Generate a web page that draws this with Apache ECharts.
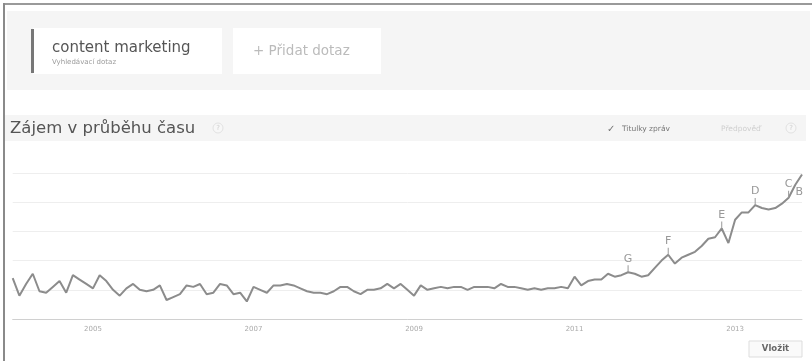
<!DOCTYPE html>
<html>
<head>
<meta charset="utf-8">
<script src="https://cdn.jsdelivr.net/npm/echarts@6/dist/echarts.min.js"></script>
<style>
html,body{margin:0;padding:0;background:#fff;}
#chart{width:812px;height:361px;}
</style>
</head>
<body>
<div id="chart"></div>
<script>
// Monthly interest values, Jan 2004 .. Nov 2013 (Google Trends, 0-100)
var values = [
  28,16,24,31,19,18,22,26,18,30,27,24,
  21,30,26,20,16,21,24,20,19,20,23,13,
  15,17,23,22,24,17,18,24,23,17,18,12,
  22,20,18,23,23,24,23,21,19,18,18,17,
  19,22,22,19,17,20,20,21,24,21,24,20,
  16,23,20,21,22,21,22,22,20,22,22,22,
  21,24,22,22,21,20,21,20,21,21,22,21,
  29,23,26,27,27,31,29,30,32,31,29,30,
  35,40,44,38,42,44,46,50,55,56,62,52,
  68,73,73,78,76,75,76,79,83,92,99
];
var startYear = 2004;
var yearLabels = ['2005','2007','2009','2011','2013'];
var eventLetters = ['G','F','E','D','C','B'];
var eventIndex = [92, 98, 106, 111, 116, 117];

var months = [];
for (var i = 0; i < values.length; i++) {
  var y = startYear + Math.floor(i / 12);
  var m = (i % 12) + 1;
  months.push(y + '-' + (m < 10 ? '0' + m : m));
}

var FONT = 'DejaVu Sans';
var chart = echarts.init(document.getElementById('chart'), null, {renderer: 'canvas'});

var markData = eventLetters.map(function (L, k) {
  var idx = eventIndex[k];
  var item = {coord: [months[idx], values[idx]], value: L, name: L};
  if (L === 'B') {
    item.symbolSize = 0;
    item.label = {offset: [4, 14]};
  }
  return item;
});

var option = {
  animation: false,
  backgroundColor: '#ffffff',
  grid: {left: 12.7, right: 10, top: 173, bottom: 42, containLabel: false},
  xAxis: {
    type: 'category',
    data: months,
    boundaryGap: false,
    axisLine: {show: true, lineStyle: {color: '#d0d0d0', width: 1}},
    axisTick: {show: false},
    splitLine: {show: false},
    axisLabel: {
      color: '#aaaaaa',
      fontFamily: FONT,
      fontSize: 7,
      margin: 7,
      interval: 0,
      formatter: function (v) {
        var yy = v.slice(0, 4), mm = v.slice(5);
        return (mm === '01' && yearLabels.indexOf(yy) >= 0) ? yy : '';
      }
    }
  },
  yAxis: {
    type: 'value',
    min: 0, max: 100, interval: 20,
    axisLine: {show: false},
    axisTick: {show: false},
    axisLabel: {show: false},
    splitLine: {show: true, lineStyle: {color: '#eeeeee', width: 1}}
  },
  series: [{
    type: 'line',
    data: values,
    showSymbol: false,
    lineStyle: {color: '#8c8c8c', width: 2},
    itemStyle: {color: '#8c8c8c'},
    markPoint: {
      symbol: 'rect',
      symbolSize: [1, 7],
      symbolOffset: [0, '-50%'],
      itemStyle: {color: '#999999'},
      label: {
        show: true,
        position: 'top',
        distance: 1,
        color: '#999999',
        fontFamily: FONT,
        fontSize: 11,
        formatter: function (p) { return p.value; }
      },
      data: markData
    }
  }],
  graphic: [
    // outer frame
    {type: 'rect', shape: {x: 3, y: 3, width: 809, height: 2}, style: {fill: '#9a9a9a'}, z: 10},
    {type: 'rect', shape: {x: 3, y: 3, width: 2, height: 358}, style: {fill: '#8a8a8a'}, z: 10},
    // top query panel
    {type: 'rect', shape: {x: 7, y: 11, width: 803, height: 79}, style: {fill: '#f5f5f5'}, z: 1},
    {type: 'rect', shape: {x: 33, y: 28, width: 189, height: 46}, style: {fill: '#ffffff'}, z: 2},
    {type: 'rect', shape: {x: 31, y: 29, width: 3, height: 44}, style: {fill: '#777777'}, z: 3},
    {type: 'text', x: 52, y: 48, z: 3, style: {text: 'content marketing', fill: '#555555', font: '15px "' + FONT + '"', textVerticalAlign: 'middle'}},
    {type: 'text', x: 52, y: 62, z: 3, style: {text: 'Vyhledávací dotaz', fill: '#9a9a9a', font: '7px "' + FONT + '"', textVerticalAlign: 'middle'}},
    {type: 'rect', shape: {x: 233, y: 28, width: 148, height: 46}, style: {fill: '#ffffff'}, z: 2},
    {type: 'text', x: 253, y: 51, z: 3, style: {text: '+ Přidat dotaz', fill: '#bbbbbb', font: '13.5px "' + FONT + '"', textVerticalAlign: 'middle'}},
    // section header band
    {type: 'rect', shape: {x: 5, y: 115, width: 801, height: 26}, style: {fill: '#f5f5f5'}, z: 1},
    {type: 'text', x: 10, y: 129, z: 3, style: {text: 'Zájem v průběhu času', fill: '#555555', font: '16.5px "' + FONT + '"', textVerticalAlign: 'middle'}},
    {type: 'circle', shape: {cx: 218, cy: 128, r: 5}, style: {fill: '#f7f7f7', stroke: '#e2e2e2', lineWidth: 1}, z: 3},
    {type: 'text', x: 218, y: 128, z: 4, style: {text: '?', fill: '#cccccc', font: '7px "' + FONT + '"', textAlign: 'center', textVerticalAlign: 'middle'}},
    {type: 'text', x: 607, y: 129, z: 3, style: {text: '✓', fill: '#777777', font: '10px "' + FONT + '"', textVerticalAlign: 'middle'}},
    {type: 'text', x: 622, y: 129, z: 3, style: {text: 'Titulky zpráv', fill: '#777777', font: '7.5px "' + FONT + '"', textVerticalAlign: 'middle'}},
    {type: 'text', x: 721, y: 129, z: 3, style: {text: 'Předpověď', fill: '#cfcfcf', font: '7.5px "' + FONT + '"', textVerticalAlign: 'middle'}},
    {type: 'circle', shape: {cx: 791, cy: 128, r: 5}, style: {fill: '#f7f7f7', stroke: '#e2e2e2', lineWidth: 1}, z: 3},
    {type: 'text', x: 791, y: 128, z: 4, style: {text: '?', fill: '#cccccc', font: '7px "' + FONT + '"', textAlign: 'center', textVerticalAlign: 'middle'}},
    // embed button
    {type: 'rect', shape: {x: 749, y: 341, width: 53, height: 16}, style: {fill: '#fafafa', stroke: '#dddddd', lineWidth: 1}, z: 3},
    {type: 'text', x: 775.5, y: 349, z: 4, style: {text: 'Vložit', fill: '#666666', font: 'bold 8.5px "' + FONT + '"', textAlign: 'center', textVerticalAlign: 'middle'}}
  ]
};
chart.setOption(option);
</script>
</body>
</html>
